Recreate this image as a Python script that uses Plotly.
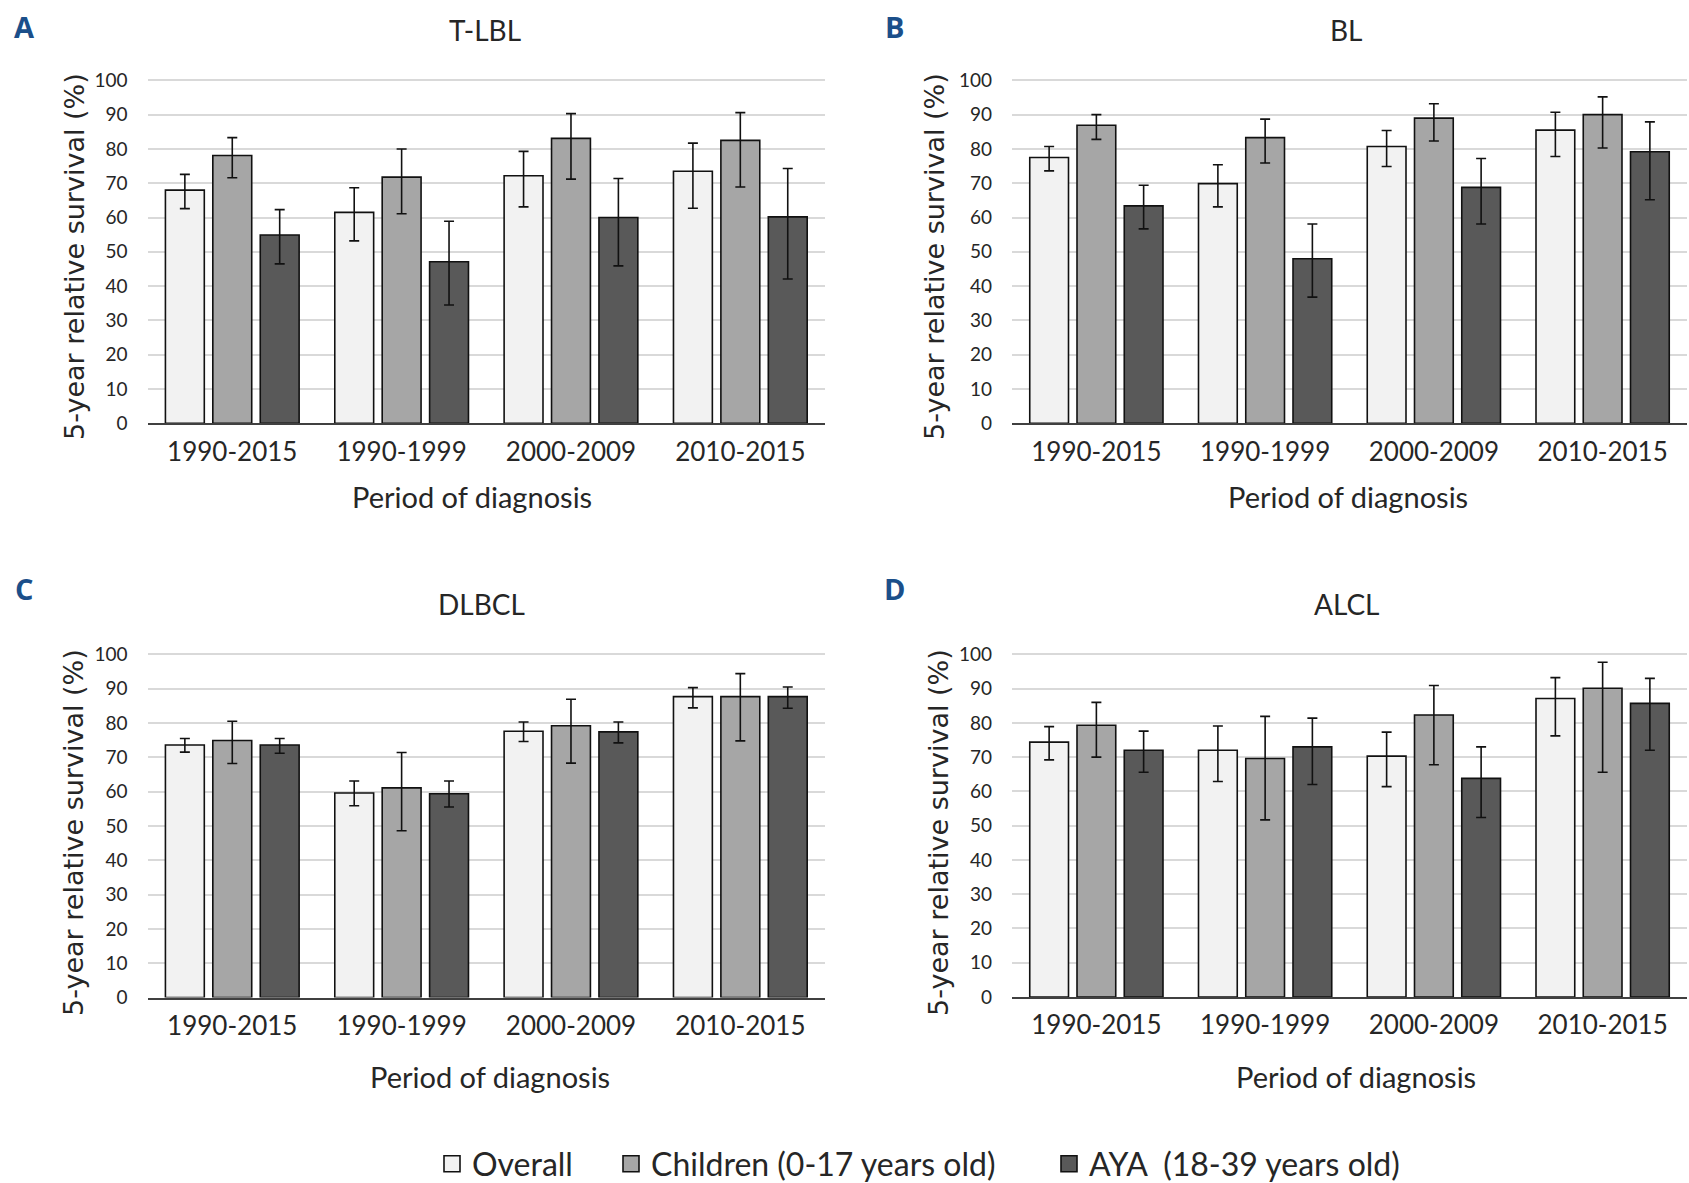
import plotly.graph_objects as go

periods = ["1990-2015", "1990-1999", "2000-2009", "2010-2015"]
series_names = ["Overall", "Children (0-17 years old)", "AYA  (18-39 years old)"]
panel_titles = ["T-LBL", "BL", "DLBCL", "ALCL"]
panel_letters = ["A", "B", "C", "D"]

# T-LBL
tlbl_overall = [68.0, 61.5, 72.2, 73.5]
tlbl_overall_hi = [72.6, 68.7, 79.3, 81.7]
tlbl_overall_lo = [62.6, 53.2, 63.1, 62.7]
tlbl_children = [78.1, 71.8, 83.1, 82.5]
tlbl_children_hi = [83.3, 80.0, 90.3, 90.6]
tlbl_children_lo = [71.6, 61.1, 71.2, 68.9]
tlbl_aya = [54.9, 47.1, 60.0, 60.2]
tlbl_aya_hi = [62.3, 58.9, 71.4, 74.3]
tlbl_aya_lo = [46.5, 34.5, 45.9, 42.1]

# BL
bl_overall = [77.5, 69.9, 80.7, 85.5]
bl_overall_hi = [80.7, 75.4, 85.4, 90.7]
bl_overall_lo = [73.6, 63.1, 74.9, 77.8]
bl_children = [86.9, 83.3, 89.0, 90.0]
bl_children_hi = [90.0, 88.7, 93.2, 95.2]
bl_children_lo = [82.8, 75.9, 82.3, 80.3]
bl_aya = [63.4, 48.0, 68.8, 79.2]
bl_aya_hi = [69.4, 58.1, 77.2, 87.9]
bl_aya_lo = [56.7, 36.8, 58.1, 65.2]

# DLBCL
dlbcl_overall = [73.6, 59.6, 77.6, 87.7]
dlbcl_overall_hi = [75.5, 63.1, 80.3, 90.3]
dlbcl_overall_lo = [71.5, 55.9, 74.6, 84.4]
dlbcl_children = [74.9, 61.1, 79.2, 87.7]
dlbcl_children_hi = [80.5, 71.4, 86.9, 94.4]
dlbcl_children_lo = [68.2, 48.6, 68.3, 74.8]
dlbcl_aya = [73.6, 59.4, 77.4, 87.7]
dlbcl_aya_hi = [75.5, 63.1, 80.3, 90.5]
dlbcl_aya_lo = [71.2, 55.5, 74.2, 84.3]

# ALCL
alcl_overall = [74.4, 72.0, 70.3, 87.1]
alcl_overall_hi = [78.9, 79.1, 77.3, 93.2]
alcl_overall_lo = [69.2, 62.9, 61.4, 76.2]
alcl_children = [79.3, 69.6, 82.3, 90.1]
alcl_children_hi = [86.0, 81.9, 90.9, 97.7]
alcl_children_lo = [70.0, 51.7, 67.8, 65.6]
alcl_aya = [72.0, 73.0, 63.8, 85.7]
alcl_aya_hi = [77.6, 81.4, 73.0, 93.0]
alcl_aya_lo = [65.6, 62.0, 52.4, 72.0]

panels = [
    [(tlbl_overall, tlbl_overall_hi, tlbl_overall_lo),
     (tlbl_children, tlbl_children_hi, tlbl_children_lo),
     (tlbl_aya, tlbl_aya_hi, tlbl_aya_lo)],
    [(bl_overall, bl_overall_hi, bl_overall_lo),
     (bl_children, bl_children_hi, bl_children_lo),
     (bl_aya, bl_aya_hi, bl_aya_lo)],
    [(dlbcl_overall, dlbcl_overall_hi, dlbcl_overall_lo),
     (dlbcl_children, dlbcl_children_hi, dlbcl_children_lo),
     (dlbcl_aya, dlbcl_aya_hi, dlbcl_aya_lo)],
    [(alcl_overall, alcl_overall_hi, alcl_overall_lo),
     (alcl_children, alcl_children_hi, alcl_children_lo),
     (alcl_aya, alcl_aya_hi, alcl_aya_lo)],
]

colors = ["#f2f2f2", "#a6a6a6", "#595959"]

W, H = 1689, 1183
def px(x):
    return x / W
def py(y):
    return 1 - y / H

x_domains = [[px(147.6), px(825)], [px(1012), px(1687)],
             [px(147.6), px(825)], [px(1012), px(1687)]]
y_domains = [[py(423.3), py(79)], [py(423.3), py(79)],
             [py(997.5), py(653)], [py(997), py(653)]]

fig = go.Figure()
TXT = "#262626"
FONT = "Lato, Calibri, Carlito, sans-serif"
legend_ids = ["legend", "legend2", "legend3"]

for p in range(4):
    xa = "x" if p == 0 else f"x{p+1}"
    ya = "y" if p == 0 else f"y{p+1}"
    for s in range(3):
        vals, hi, lo = panels[p][s]
        fig.add_trace(go.Bar(
            x=periods, y=vals,
            name=series_names[s],
            legendgroup=series_names[s],
            showlegend=False,
            marker=dict(color=colors[s], line=dict(color="#111111", width=1.6)),
            error_y=dict(type="data", symmetric=False,
                         array=[h - v for h, v in zip(hi, vals)],
                         arrayminus=[v - l for v, l in zip(vals, lo)],
                         color="#111111", thickness=1.6, width=5),
            xaxis=xa, yaxis=ya,
        ))

# legend entries (square swatches like the original)
for s in range(3):
    fig.add_trace(go.Scatter(
        x=[None], y=[None], mode="markers", name=series_names[s],
        legendgroup=series_names[s], legend=legend_ids[s], showlegend=True,
        marker=dict(symbol="square", size=17, color=colors[s],
                    line=dict(color="#111111", width=1.6)),
        xaxis="x", yaxis="y", hoverinfo="skip",
    ))

leg_common = dict(orientation="h", xanchor="left", y=py(1164), yanchor="middle",
                  font=dict(family=FONT, size=32, color=TXT), itemwidth=30,
                  bgcolor="rgba(0,0,0,0)")
layout = dict(
    width=W, height=H,
    paper_bgcolor="white", plot_bgcolor="white",
    margin=dict(l=0, r=0, t=0, b=0, autoexpand=False),
    barmode="group", bargap=0.16, bargroupgap=0.18,
    font=dict(family=FONT, color=TXT),
    legend=dict(x=px(432), **leg_common),
    legend2=dict(x=px(611), **leg_common),
    legend3=dict(x=px(1049), **leg_common),
)

for p in range(4):
    xk = "xaxis" if p == 0 else f"xaxis{p+1}"
    yk = "yaxis" if p == 0 else f"yaxis{p+1}"
    ya = "y" if p == 0 else f"y{p+1}"
    xa = "x" if p == 0 else f"x{p+1}"
    layout[xk] = dict(domain=x_domains[p], anchor=ya, showline=True, linecolor="#404040",
                      linewidth=2, showgrid=False, ticks="", ticklabelstandoff=4,
                      tickfont=dict(family=FONT, size=26, color=TXT), fixedrange=True)
    layout[yk] = dict(domain=y_domains[p], anchor=xa, range=[0, 100.4], dtick=10,
                      showgrid=True, gridcolor="#d9d9d9", gridwidth=2, zeroline=False,
                      showline=False, ticks="", ticklabelstandoff=19,
                      tickfont=dict(family=FONT, size=19, color=TXT), fixedrange=True)

fig.update_layout(**layout)

ann = []
title_pos = [(485, 30), (1346, 30), (481, 604), (1346, 604)]
xt_pos = [(472, 496), (1348, 496), (490, 1076), (1356, 1076)]
yt_pos = [(74, 257), (934, 257), (73, 833), (938, 833)]
let_pos = [(24, 26), (894, 26), (24, 588), (894, 588)]
for p in range(4):
    ann.append(dict(text=panel_titles[p], x=px(title_pos[p][0]), y=py(title_pos[p][1]),
                    xref="paper", yref="paper", showarrow=False, xanchor="center", yanchor="middle",
                    font=dict(family=FONT, size=28, color=TXT)))
    ann.append(dict(text="Period of diagnosis", x=px(xt_pos[p][0]), y=py(xt_pos[p][1]),
                    xref="paper", yref="paper", showarrow=False, xanchor="center", yanchor="middle",
                    font=dict(family=FONT, size=29, color=TXT)))
    ann.append(dict(text="5-year relative survival (%)", x=px(yt_pos[p][0]), y=py(yt_pos[p][1]),
                    xref="paper", yref="paper", showarrow=False, xanchor="center", yanchor="middle",
                    textangle=-90, font=dict(family="DejaVu Sans, Verdana, sans-serif", size=27, color=TXT)))
    ann.append(dict(text="<b>" + panel_letters[p] + "</b>", x=px(let_pos[p][0]), y=py(let_pos[p][1]),
                    xref="paper", yref="paper", showarrow=False, xanchor="center", yanchor="middle",
                    font=dict(family="Open Sans, Arial, sans-serif", size=29, color="#1b4f8a")))
fig.update_layout(annotations=ann)

fig.write_html("out.html", config={"displayModeBar": False},
               post_script="document.body.style.margin='0';document.body.style.overflow='hidden';")
